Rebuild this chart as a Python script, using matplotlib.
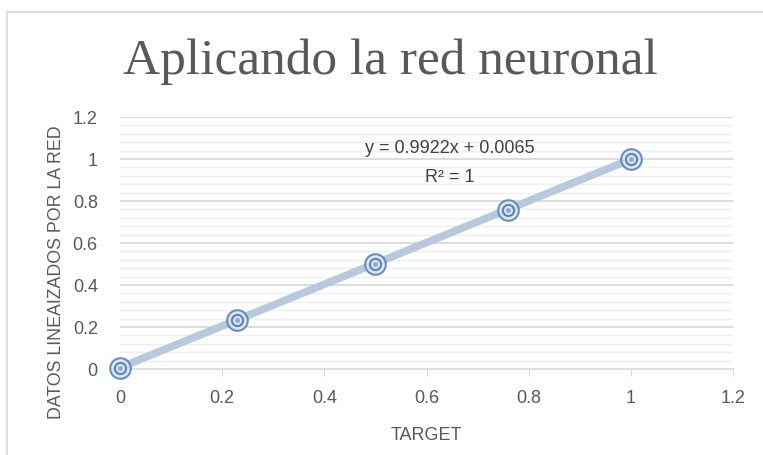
import matplotlib.pyplot as plt
from matplotlib.patches import Rectangle
import numpy as np

# ==============================
# DATA
# ==============================
target = [0.0, 0.23, 0.5, 0.76, 1.0]
red_out = [0.005, 0.232, 0.5, 0.757, 0.998]
x_ticks = [0, 0.2, 0.4, 0.6, 0.8, 1, 1.2]
y_ticks = [0, 0.2, 0.4, 0.6, 0.8, 1, 1.2]
slope = 0.9922
intercept = 0.0065

# ==============================
# FIGURE
# ==============================
fig = plt.figure(figsize=(7.63, 4.55), dpi=100)
fig.patch.set_facecolor("white")

# chart border
fig.add_artist(Rectangle((7 / 763, -0.1), 1.0, 1 - 12 / 455 + 0.1,
                         transform=fig.transFigure, fill=False,
                         edgecolor="#d9d9d9", linewidth=1.2))

ax = fig.add_axes([120 / 763, 1 - 369 / 455, 613 / 763, 252 / 455])
ax.set_xlim(0, 1.2)
ax.set_ylim(0, 1.2)

# gridlines
for v in np.arange(0.04, 1.21, 0.04):
    major = abs(v / 0.2 - round(v / 0.2)) < 1e-6
    ax.axhline(v, color="#d9d9d9" if major else "#efefef",
               lw=1.3 if major else 1.0, zorder=0)

# trendline
xs = np.array([0, 1.0])
ax.plot(xs, slope * xs + intercept, color="#b8c9dd", lw=5.5,
        solid_capstyle="round", zorder=2)

# markers (double circle)
ax.scatter(target, red_out, s=220, facecolor="#dbe4f0", edgecolor="#5b84ba",
           linewidth=1.5, zorder=3, alpha=0.9, clip_on=False)
ax.scatter(target, red_out, s=65, facecolor="#dbe4f0", edgecolor="#5b84ba",
           linewidth=1.5, zorder=4, clip_on=False)
ax.scatter(target, red_out, s=6, color="#8fa9cc", zorder=5, clip_on=False)

ax.text(0.646, 1.052, "y = 0.9922x + 0.0065", fontsize=13, color="#404040",
        family="Liberation Sans", ha="center", va="center")
ax.text(0.646, 0.914, "R² = 1", fontsize=13, color="#404040",
        family="Liberation Sans", ha="center", va="center")

ax.set_xticks(x_ticks)
ax.set_yticks(y_ticks)
ax.set_xticklabels([f"{t:g}" for t in x_ticks])
ax.set_yticklabels([f"{t:g}" for t in y_ticks])
ax.tick_params(axis="x", length=5, color="#d9d9d9", labelsize=13,
               labelcolor="#595959", pad=10)
ax.tick_params(axis="y", length=0, labelsize=13, labelcolor="#595959", pad=16)
for lab in ax.get_xticklabels() + ax.get_yticklabels():
    lab.set_family("Liberation Sans")

for s in ["top", "right", "left"]:
    ax.spines[s].set_visible(False)
ax.spines["bottom"].set_color("#d9d9d9")
ax.spines["bottom"].set_linewidth(1.2)

ax.set_xlabel("TARGET", fontsize=13, color="#595959", family="Liberation Sans")
ax.xaxis.set_label_coords(0.5, -0.23)
ax.set_ylabel("DATOS LINEAIZADOS POR LA RED", fontsize=12.8, color="#595959",
              family="Liberation Sans")
ax.yaxis.set_label_coords(-0.09, 0.385)

fig.text(390 / 763, 1 - 62 / 455, "Aplicando la red neuronal", fontsize=37,
         color="#595959", family="Liberation Serif", ha="center", va="center")

fig.savefig("out.png", dpi=100)
